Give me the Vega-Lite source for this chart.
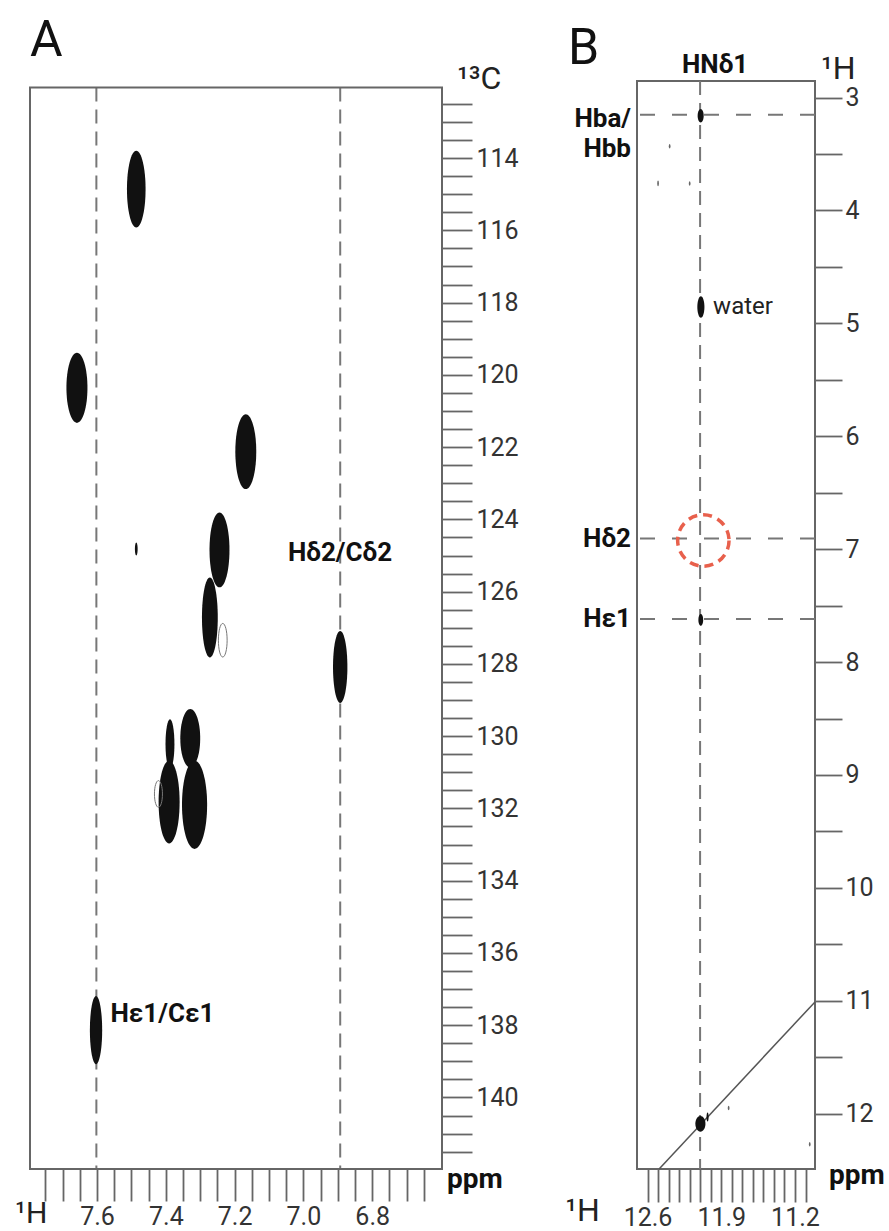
{
  "$schema": "https://vega.github.io/schema/vega-lite/v6.json",
  "background": "white",
  "padding": {"left": 15, "top": 15, "right": 5, "bottom": 10},
  "spacing": 195,
  "bounds": "flush",
  "resolve": {"scale": {"size": "independent", "shape": "independent"}},
  "config": {"font": "Roboto"},
  "datasets": {
    "peaksA": [
      {"peak": "a1", "kind": "strong", "h": 7.486, "c": 114.86, "dh": 0.054, "dc": 2.12},
      {"peak": "a2", "kind": "strong", "h": 7.6585, "c": 120.36, "dh": 0.061, "dc": 1.94},
      {"peak": "a3", "kind": "strong", "h": 7.1675, "c": 122.125, "dh": 0.061, "dc": 2.07},
      {"peak": "a4u", "kind": "strong", "h": 7.244, "c": 124.845, "dh": 0.058, "dc": 2.07},
      {"peak": "a4l", "kind": "strong", "h": 7.272, "c": 126.715, "dh": 0.046, "dc": 2.21},
      {"peak": "a5", "kind": "strong", "h": 6.893, "c": 128.085, "dh": 0.042, "dc": 1.99},
      {"peak": "a6ln", "kind": "strong", "h": 7.388, "c": 130.215, "dh": 0.026, "dc": 1.37},
      {"peak": "a6lb", "kind": "strong", "h": 7.3905, "c": 131.825, "dh": 0.061, "dc": 2.29},
      {"peak": "a6rt", "kind": "strong", "h": 7.329, "c": 130.06, "dh": 0.058, "dc": 1.62},
      {"peak": "a6rb", "kind": "strong", "h": 7.3165, "c": 131.9, "dh": 0.073, "dc": 2.44},
      {"peak": "a7", "kind": "strong", "h": 7.603, "c": 138.135, "dh": 0.036, "dc": 1.89},
      {"peak": "a8", "kind": "strong", "h": 7.486, "c": 124.82, "dh": 0.008, "dc": 0.36},
      {"peak": "w1", "kind": "weak", "h": 7.2345, "c": 127.345, "dh": 0.025, "dc": 0.93},
      {"peak": "w2", "kind": "weak", "h": 7.4215, "c": 131.6, "dh": 0.023, "dc": 0.74}
    ],
    "linesA": [{"h": 7.602}, {"h": 6.893}],
    "labelsA": [
      {"h": 7.045, "c": 124.94, "label": "Hδ2/Cδ2"},
      {"h": 7.561, "c": 137.68, "label": "Hε1/Cε1"}
    ],
    "peaksB": [
      {"peak": "b1", "kind": "strong", "h": 12.0955, "v": 3.1615, "dh": 0.057, "dv": 0.119},
      {"peak": "water", "kind": "strong", "h": 12.0935, "v": 4.855, "dh": 0.067, "dv": 0.19},
      {"peak": "b3", "kind": "strong", "h": 12.0945, "v": 7.6265, "dh": 0.045, "dv": 0.103},
      {"peak": "diag", "kind": "strong", "h": 12.098, "v": 12.09, "dh": 0.096, "dv": 0.14},
      {"peak": "s0", "kind": "strong", "h": 12.03, "v": 12.03, "dh": 0.02, "dv": 0.08},
      {"peak": "s1", "kind": "weak", "h": 12.39, "v": 3.43, "dh": 0.016, "dv": 0.04},
      {"peak": "s2", "kind": "weak", "h": 12.50, "v": 3.76, "dh": 0.016, "dv": 0.05},
      {"peak": "s3", "kind": "weak", "h": 12.20, "v": 3.76, "dh": 0.016, "dv": 0.04},
      {"peak": "s4", "kind": "weak", "h": 11.83, "v": 11.95, "dh": 0.016, "dv": 0.04},
      {"peak": "s5", "kind": "weak", "h": 11.06, "v": 12.27, "dh": 0.016, "dv": 0.04}
    ],
    "hlinesB": [{"v": 3.153}, {"v": 6.906}, {"v": 7.618}],
    "vlinesB": [{"h": 12.101}],
    "diagB": [{"h": 12.49, "v": 12.49}, {"h": 11.01, "v": 11.01}]
  },
  "hconcat": [
    {
      "width": 412,
      "height": 1088,
      "view": {"stroke": null},
      "layer": [
        {
          "data": {"name": "linesA"},
          "mark": {"type": "rule", "color": "#777", "strokeWidth": 2, "strokeDash": [14, 8]},
          "encoding": {
            "x": {"field": "h", "type": "quantitative"},
            "y": {"datum": 112.05, "type": "quantitative"},
            "y2": {"datum": 141.98}
          }
        },
        {
          "data": {"values": [{}]},
          "mark": {"type": "rect", "filled": false, "color": "#666", "strokeWidth": 2},
          "encoding": {
            "x": {"datum": 7.795, "type": "quantitative"},
            "x2": {"datum": 6.597},
            "y": {"datum": 112.05, "type": "quantitative"},
            "y2": {"datum": 141.98}
          }
        },
        {
          "data": {"name": "peaksA"},
          "transform": [{"filter": "datum.kind == 'strong'"}],
          "mark": {"type": "point", "filled": true, "color": "#111", "opacity": 1, "strokeWidth": 0},
          "encoding": {
            "x": {"field": "h", "type": "quantitative",
              "scale": {"domain": [6.597, 7.795], "reverse": true, "nice": false, "zero": false},
              "axis": {"orient": "bottom", "title": null, "grid": false, "domain": false, "tickCount": 500,
                "values": [7.75, 7.7, 7.65, 7.6, 7.55, 7.5, 7.45, 7.4, 7.35, 7.3, 7.25, 7.2, 7.15, 7.1, 7.05, 7.0, 6.95, 6.9, 6.85, 6.8, 6.75, 6.7, 6.65],
                "labelExpr": "abs(datum.value*5 - round(datum.value*5)) < 0.001 ? format(datum.value, '.1f') : ''",
                "tickSize": 32,
                "encode": {"ticks": {"update": {"y2": {"signal": "abs(datum.value*5 - round(datum.value*5)) < 0.001 ? 32 : 19"}}}},
                "tickColor": "#666", "tickWidth": 1.8,
                "labelFontSize": 25, "labelColor": "#333", "labelFont": "Roboto", "labelPadding": 3,
                "labelFlush": false, "labelOverlap": false, "labelBound": false}},
            "y": {"field": "c", "type": "quantitative",
              "scale": {"domain": [111.867, 141.98], "reverse": true, "nice": false, "zero": false},
              "axis": {"orient": "right", "title": null, "grid": false, "domain": false, "tickCount": 500,
                "values": [112.5, 113, 113.5, 114, 114.5, 115, 115.5, 116, 116.5, 117, 117.5, 118, 118.5, 119, 119.5, 120, 120.5, 121, 121.5, 122, 122.5, 123, 123.5, 124, 124.5, 125, 125.5, 126, 126.5, 127, 127.5, 128, 128.5, 129, 129.5, 130, 130.5, 131, 131.5, 132, 132.5, 133, 133.5, 134, 134.5, 135, 135.5, 136, 136.5, 137, 137.5, 138, 138.5, 139, 139.5, 140, 140.5, 141, 141.5],
                "labelExpr": "abs(datum.value/2 - round(datum.value/2)) < 0.001 ? format(datum.value, 'd') : ''",
                "tickSize": 30,
                "encode": {"ticks": {"update": {"x2": {"signal": "abs(datum.value/2 - round(datum.value/2)) < 0.001 ? 30 : 15"}}}},
                "tickColor": "#666", "tickWidth": 1.8,
                "labelFontSize": 25, "labelColor": "#333", "labelFont": "Roboto", "labelPadding": 4,
                "labelFlush": false, "labelOverlap": false, "labelBound": false}},
            "size": {"field": "dc", "type": "quantitative", "legend": null,
              "scale": {"type": "pow", "exponent": 2, "domain": [0, 1], "range": [0, 1305.4], "zero": true}},
            "shape": {"field": "peak", "type": "nominal", "legend": null,
              "scale": {
                "domain": ["a1", "a2", "a3", "a4u", "a4l", "a5", "a6ln", "a6lb", "a6rt", "a6rb", "a7", "a8", "w1", "w2"],
                "range": [
                  "M0,-1A0.243,1,0,1,1,0,1A0.243,1,0,1,1,0,-1Z",
                  "M0,-1A0.30,1,0,1,1,0,1A0.30,1,0,1,1,0,-1Z",
                  "M0,-1A0.28,1,0,1,1,0,1A0.28,1,0,1,1,0,-1Z",
                  "M0,-1A0.267,1,0,1,1,0,1A0.267,1,0,1,1,0,-1Z",
                  "M0,-1A0.198,1,0,1,1,0,1A0.198,1,0,1,1,0,-1Z",
                  "M0,-1A0.20,1,0,1,1,0,1A0.20,1,0,1,1,0,-1Z",
                  "M0,-1A0.18,1,0,1,1,0,1A0.18,1,0,1,1,0,-1Z",
                  "M0,-1A0.254,1,0,1,1,0,1A0.254,1,0,1,1,0,-1Z",
                  "M0,-1A0.34,1,0,1,1,0,1A0.34,1,0,1,1,0,-1Z",
                  "M0,-1A0.285,1,0,1,1,0,1A0.285,1,0,1,1,0,-1Z",
                  "M0,-1A0.18,1,0,1,1,0,1A0.18,1,0,1,1,0,-1Z",
                  "M0,-1A0.21,1,0,1,1,0,1A0.21,1,0,1,1,0,-1Z",
                  "M0,-1A0.26,1,0,1,1,0,1A0.26,1,0,1,1,0,-1Z",
                  "M0,-1A0.30,1,0,1,1,0,1A0.30,1,0,1,1,0,-1Z"
                ]}}
          }
        },
        {
          "data": {"name": "peaksA"},
          "transform": [{"filter": "datum.kind == 'weak'"}],
          "mark": {"type": "point", "filled": false, "color": "#777", "opacity": 1, "strokeWidth": 1},
          "encoding": {
            "x": {"field": "h", "type": "quantitative"},
            "y": {"field": "c", "type": "quantitative"},
            "size": {"field": "dc", "type": "quantitative", "legend": null,
              "scale": {"type": "pow", "exponent": 2, "domain": [0, 1], "range": [0, 1305.4], "zero": true}},
            "shape": {"field": "peak", "type": "nominal", "legend": null,
              "scale": {
                "domain": ["a1", "a2", "a3", "a4u", "a4l", "a5", "a6ln", "a6lb", "a6rt", "a6rb", "a7", "a8", "w1", "w2"],
                "range": [
                  "M0,-1A0.243,1,0,1,1,0,1A0.243,1,0,1,1,0,-1Z",
                  "M0,-1A0.30,1,0,1,1,0,1A0.30,1,0,1,1,0,-1Z",
                  "M0,-1A0.28,1,0,1,1,0,1A0.28,1,0,1,1,0,-1Z",
                  "M0,-1A0.267,1,0,1,1,0,1A0.267,1,0,1,1,0,-1Z",
                  "M0,-1A0.198,1,0,1,1,0,1A0.198,1,0,1,1,0,-1Z",
                  "M0,-1A0.20,1,0,1,1,0,1A0.20,1,0,1,1,0,-1Z",
                  "M0,-1A0.18,1,0,1,1,0,1A0.18,1,0,1,1,0,-1Z",
                  "M0,-1A0.254,1,0,1,1,0,1A0.254,1,0,1,1,0,-1Z",
                  "M0,-1A0.34,1,0,1,1,0,1A0.34,1,0,1,1,0,-1Z",
                  "M0,-1A0.285,1,0,1,1,0,1A0.285,1,0,1,1,0,-1Z",
                  "M0,-1A0.18,1,0,1,1,0,1A0.18,1,0,1,1,0,-1Z",
                  "M0,-1A0.21,1,0,1,1,0,1A0.21,1,0,1,1,0,-1Z",
                  "M0,-1A0.26,1,0,1,1,0,1A0.26,1,0,1,1,0,-1Z",
                  "M0,-1A0.30,1,0,1,1,0,1A0.30,1,0,1,1,0,-1Z"
                ]}}
          }
        },
        {
          "data": {"name": "labelsA"},
          "mark": {"type": "text", "align": "left", "baseline": "middle", "fontSize": 26, "fontWeight": "bold", "font": "Roboto", "color": "#111"},
          "encoding": {
            "x": {"field": "h", "type": "quantitative"},
            "y": {"field": "c", "type": "quantitative"},
            "text": {"field": "label"}
          }
        },
        {
          "data": {"values": [{}]},
          "mark": {"type": "text", "text": "A", "align": "left", "baseline": "alphabetic", "fontSize": 50, "font": "Roboto", "color": "#111", "dy": -31.7},
          "encoding": {
            "x": {"datum": 7.795, "type": "quantitative"},
            "y": {"datum": 112.05, "type": "quantitative"}
          }
        },
        {
          "data": {"values": [{}]},
          "mark": {"type": "text", "text": "¹³C", "align": "left", "baseline": "alphabetic", "fontSize": 32, "font": "Roboto", "color": "#222", "dx": 15, "dy": 1.5},
          "encoding": {
            "x": {"datum": 6.597, "type": "quantitative"},
            "y": {"datum": 112.05, "type": "quantitative"}
          }
        },
        {
          "data": {"values": [{}]},
          "mark": {"type": "text", "text": "ppm", "align": "left", "baseline": "alphabetic", "fontSize": 28, "fontWeight": "bold", "font": "Roboto", "color": "#111", "dx": 5, "dy": 18.5},
          "encoding": {
            "x": {"datum": 6.597, "type": "quantitative"},
            "y": {"datum": 141.98, "type": "quantitative"}
          }
        },
        {
          "data": {"values": [{}]},
          "mark": {"type": "text", "text": "¹H", "align": "left", "baseline": "alphabetic", "fontSize": 30, "font": "Roboto", "color": "#222", "dx": -15, "dy": 54},
          "encoding": {
            "x": {"datum": 7.795, "type": "quantitative"},
            "y": {"datum": 141.98, "type": "quantitative"}
          }
        }
      ]
    },
    {
      "width": 178,
      "height": 1088,
      "view": {"stroke": "#666", "strokeWidth": 2},
      "layer": [
        {
          "data": {"name": "vlinesB"},
          "mark": {"type": "rule", "color": "#777", "strokeWidth": 2, "strokeDash": [14, 8]},
          "encoding": {
            "x": {"field": "h", "type": "quantitative",
              "scale": {"domain": [11.01, 12.70], "reverse": true, "nice": false, "zero": false},
              "axis": {"orient": "bottom", "title": null, "grid": false, "domain": false, "tickCount": 500,
                "values": [12.6, 12.5, 12.4, 12.3, 12.2, 12.1, 12.0, 11.9, 11.8, 11.7, 11.6, 11.5, 11.4, 11.3, 11.2, 11.1],
                "labelExpr": "abs((12.6 - datum.value)/0.7 - round((12.6 - datum.value)/0.7)) < 0.001 ? format(datum.value, '.1f') : ''",
                "tickSize": 33,
                "encode": {"ticks": {"update": {"y2": {"signal": "abs((12.6 - datum.value)/0.7 - round((12.6 - datum.value)/0.7)) < 0.001 ? 33 : 17"}}}},
                "tickColor": "#666", "tickWidth": 1.8,
                "labelFontSize": 25, "labelColor": "#333", "labelFont": "Roboto", "labelPadding": 3,
                "labelFlush": false, "labelOverlap": false, "labelBound": false}}
          }
        },
        {
          "data": {"name": "hlinesB"},
          "mark": {"type": "rule", "color": "#777", "strokeWidth": 2, "strokeDash": [15, 17]},
          "encoding": {
            "y": {"field": "v", "type": "quantitative",
              "scale": {"domain": [2.853, 12.49], "reverse": true, "nice": false, "zero": false},
              "axis": {"orient": "right", "title": null, "grid": false, "domain": false, "tickCount": 500,
                "values": [3, 3.5, 4, 4.5, 5, 5.5, 6, 6.5, 7, 7.5, 8, 8.5, 9, 9.5, 10, 10.5, 11, 11.5, 12],
                "labelExpr": "abs(datum.value - round(datum.value)) < 0.001 ? format(datum.value, 'd') : ''",
                "tickSize": 27,
                "encode": {"ticks": {"update": {"x2": {"signal": "abs(datum.value - round(datum.value)) < 0.001 ? 27 : 15"}}}},
                "tickColor": "#666", "tickWidth": 1.8,
                "labelFontSize": 25, "labelColor": "#333", "labelFont": "Roboto", "labelPadding": 3,
                "labelFlush": false, "labelOverlap": false, "labelBound": false}}
          }
        },
        {
          "data": {"name": "diagB"},
          "mark": {"type": "line", "color": "#555", "strokeWidth": 1.5},
          "encoding": {
            "x": {"field": "h", "type": "quantitative"},
            "y": {"field": "v", "type": "quantitative"}
          }
        },
        {
          "data": {"name": "peaksB"},
          "transform": [{"filter": "datum.kind == 'strong'"}],
          "mark": {"type": "point", "filled": true, "color": "#111", "opacity": 1, "strokeWidth": 0},
          "encoding": {
            "x": {"field": "h", "type": "quantitative"},
            "y": {"field": "v", "type": "quantitative"},
            "size": {"field": "dv", "type": "quantitative", "legend": null,
              "scale": {"type": "pow", "exponent": 2, "domain": [0, 1], "range": [0, 12746], "zero": true}},
            "shape": {"field": "peak", "type": "nominal", "legend": null,
              "scale": {
                "domain": ["b1", "water", "b3", "diag", "s0", "s1", "s2", "s3", "s4", "s5"],
                "range": [
                  "M0,-1A0.45,1,0,1,1,0,1A0.45,1,0,1,1,0,-1Z",
                  "M0,-1A0.33,1,0,1,1,0,1A0.33,1,0,1,1,0,-1Z",
                  "M0,-1A0.41,1,0,1,1,0,1A0.41,1,0,1,1,0,-1Z",
                  "M0,-1A0.64,1,0,1,1,0,1A0.64,1,0,1,1,0,-1Z",
                  "M0,-1A0.23,1,0,1,1,0,1A0.23,1,0,1,1,0,-1Z",
                  "M0,-1A0.38,1,0,1,1,0,1A0.38,1,0,1,1,0,-1Z",
                  "M0,-1A0.3,1,0,1,1,0,1A0.3,1,0,1,1,0,-1Z",
                  "M0,-1A0.38,1,0,1,1,0,1A0.38,1,0,1,1,0,-1Z",
                  "M0,-1A0.38,1,0,1,1,0,1A0.38,1,0,1,1,0,-1Z",
                  "M0,-1A0.38,1,0,1,1,0,1A0.38,1,0,1,1,0,-1Z"
                ]}}
          }
        },
        {
          "data": {"name": "peaksB"},
          "transform": [{"filter": "datum.kind == 'weak'"}],
          "mark": {"type": "point", "filled": true, "color": "#666", "opacity": 1, "strokeWidth": 0},
          "encoding": {
            "x": {"field": "h", "type": "quantitative"},
            "y": {"field": "v", "type": "quantitative"},
            "size": {"field": "dv", "type": "quantitative", "legend": null,
              "scale": {"type": "pow", "exponent": 2, "domain": [0, 1], "range": [0, 12746], "zero": true}},
            "shape": {"field": "peak", "type": "nominal", "legend": null,
              "scale": {
                "domain": ["b1", "water", "b3", "diag", "s0", "s1", "s2", "s3", "s4", "s5"],
                "range": [
                  "M0,-1A0.45,1,0,1,1,0,1A0.45,1,0,1,1,0,-1Z",
                  "M0,-1A0.33,1,0,1,1,0,1A0.33,1,0,1,1,0,-1Z",
                  "M0,-1A0.41,1,0,1,1,0,1A0.41,1,0,1,1,0,-1Z",
                  "M0,-1A0.64,1,0,1,1,0,1A0.64,1,0,1,1,0,-1Z",
                  "M0,-1A0.23,1,0,1,1,0,1A0.23,1,0,1,1,0,-1Z",
                  "M0,-1A0.38,1,0,1,1,0,1A0.38,1,0,1,1,0,-1Z",
                  "M0,-1A0.3,1,0,1,1,0,1A0.3,1,0,1,1,0,-1Z",
                  "M0,-1A0.38,1,0,1,1,0,1A0.38,1,0,1,1,0,-1Z",
                  "M0,-1A0.38,1,0,1,1,0,1A0.38,1,0,1,1,0,-1Z",
                  "M0,-1A0.38,1,0,1,1,0,1A0.38,1,0,1,1,0,-1Z"
                ]}}
          }
        },
        {
          "data": {"values": [{}]},
          "mark": {"type": "point", "shape": "circle", "filled": false, "size": 2640, "color": "#e8604c", "strokeWidth": 3.5, "strokeDash": [9, 6], "opacity": 1},
          "encoding": {
            "x": {"datum": 12.07, "type": "quantitative"},
            "y": {"datum": 6.923, "type": "quantitative"}
          }
        },
        {
          "data": {"values": [{}]},
          "mark": {"type": "text", "text": "water", "align": "left", "baseline": "middle", "fontSize": 24, "font": "Roboto", "color": "#222", "dx": 13},
          "encoding": {
            "x": {"datum": 12.101, "type": "quantitative"},
            "y": {"datum": 4.855, "type": "quantitative"}
          }
        },
        {
          "data": {"values": [{}]},
          "mark": {"type": "text", "text": ["Hba/", "Hbb"], "lineHeight": 30, "align": "right", "baseline": "middle", "fontSize": 26, "fontWeight": "bold", "font": "Roboto", "color": "#111", "dx": -6, "dy": 4},
          "encoding": {
            "x": {"datum": 12.70, "type": "quantitative"},
            "y": {"datum": 3.153, "type": "quantitative"}
          }
        },
        {
          "data": {"values": [{}]},
          "mark": {"type": "text", "text": "Hδ2", "align": "right", "baseline": "middle", "fontSize": 26, "fontWeight": "bold", "font": "Roboto", "color": "#111", "dx": -6},
          "encoding": {
            "x": {"datum": 12.70, "type": "quantitative"},
            "y": {"datum": 6.906, "type": "quantitative"}
          }
        },
        {
          "data": {"values": [{}]},
          "mark": {"type": "text", "text": "Hε1", "align": "right", "baseline": "middle", "fontSize": 26, "fontWeight": "bold", "font": "Roboto", "color": "#111", "dx": -6},
          "encoding": {
            "x": {"datum": 12.70, "type": "quantitative"},
            "y": {"datum": 7.618, "type": "quantitative"}
          }
        },
        {
          "data": {"values": [{}]},
          "mark": {"type": "text", "text": "HNδ1", "align": "center", "baseline": "alphabetic", "fontSize": 26, "fontWeight": "bold", "font": "Roboto", "color": "#111", "dx": 15, "dy": -8},
          "encoding": {
            "x": {"datum": 12.101, "type": "quantitative"},
            "y": {"datum": 2.853, "type": "quantitative"}
          }
        },
        {
          "data": {"values": [{}]},
          "mark": {"type": "text", "text": "B", "align": "left", "baseline": "alphabetic", "fontSize": 50, "font": "Roboto", "color": "#111", "dx": -69, "dy": -17},
          "encoding": {
            "x": {"datum": 12.70, "type": "quantitative"},
            "y": {"datum": 2.853, "type": "quantitative"}
          }
        },
        {
          "data": {"values": [{}]},
          "mark": {"type": "text", "text": "¹H", "align": "left", "baseline": "alphabetic", "fontSize": 32, "font": "Roboto", "color": "#222", "dx": 6, "dy": -2},
          "encoding": {
            "x": {"datum": 11.01, "type": "quantitative"},
            "y": {"datum": 2.853, "type": "quantitative"}
          }
        },
        {
          "data": {"values": [{}]},
          "mark": {"type": "text", "text": "ppm", "align": "left", "baseline": "alphabetic", "fontSize": 28, "fontWeight": "bold", "font": "Roboto", "color": "#111", "dx": 14, "dy": 15},
          "encoding": {
            "x": {"datum": 11.01, "type": "quantitative"},
            "y": {"datum": 12.49, "type": "quantitative"}
          }
        },
        {
          "data": {"values": [{}]},
          "mark": {"type": "text", "text": "¹H", "align": "left", "baseline": "alphabetic", "fontSize": 32, "font": "Roboto", "color": "#222", "dx": -71.7, "dy": 52},
          "encoding": {
            "x": {"datum": 12.70, "type": "quantitative"},
            "y": {"datum": 12.49, "type": "quantitative"}
          }
        }
      ]
    }
  ]
}
